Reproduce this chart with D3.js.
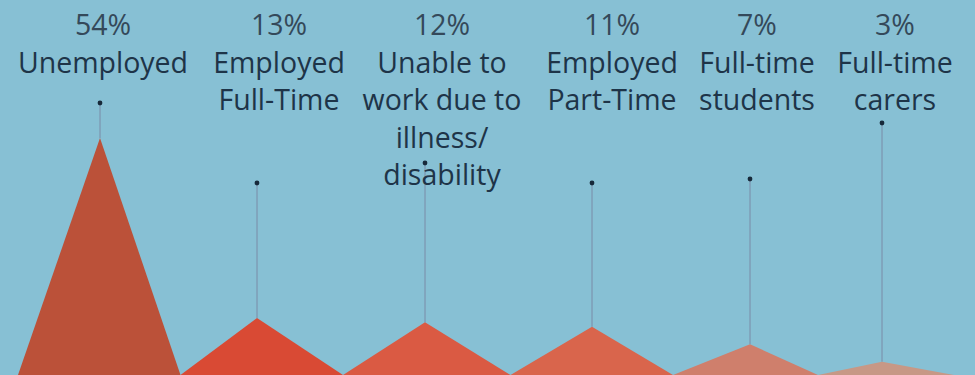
<!DOCTYPE html>
<html>
<head>
<meta charset="utf-8">
<script src="https://cdn.jsdelivr.net/npm/d3@7"></script>
<style>
  html, body { margin: 0; padding: 0; background: #87c0d4; }
  svg { display: block; }
</style>
</head>
<body>
<svg id="chart" width="975" height="375"></svg>
<script>
// ---- data ----
const categories = ["Unemployed", "Employed Full-Time", "Unable to work due to illness/disability",
                    "Employed Part-Time", "Full-time students", "Full-time carers"];
const labelLines = [
  ["Unemployed"],
  ["Employed", "Full-Time"],
  ["Unable to", "work due to", "illness/", "disability"],
  ["Employed", "Part-Time"],
  ["Full-time", "students"],
  ["Full-time", "carers"]
];
const values = [54, 13, 12, 11, 7, 3];
const percentLabels = ["54%", "13%", "12%", "11%", "7%", "3%"];

// ---- layout / style (not data) ----
const W = 975, H = 375;
const colX = [100, 257, 425, 592, 750, 882];      // column (peak) centres
const labelX = [103, 279, 442, 612, 757, 895];    // label block centres
const dotY = [103, 183, 163, 183, 179, 123];      // leader-dot heights
const colors = ["#bb5139", "#d94a34", "#da5a43", "#d9654c", "#cf7f6c", "#c79886"];
const fontSize = 28.5, lineH = 37.5, firstBaseline = 35;

const svg = d3.select("#chart");
svg.append("rect").attr("width", W).attr("height", H).attr("fill", "#87c0d4");

const x = d3.scaleLinear().domain(d3.range(categories.length)).range(colX);
const xl = d3.scaleLinear().domain(d3.range(categories.length)).range(labelX);
const y = d3.scaleLinear().domain([0, d3.max(values)]).range([H, 138]);

// base edges = midpoints between neighbours
function edges(i) {
  const c = x(i);
  const left = i === 0 ? c - (x(1) - c) / 2 - 3.5 : (x(i - 1) + c) / 2 + 2;
  const right = i === categories.length - 1 ? c + (c - x(i - 1)) / 2 + 6 : (x(i + 1) + c) / 2 + 2;
  return [left, right];
}

const g = svg.append("g");

// leader lines
g.selectAll("line.leader").data(values).join("line")
  .attr("class", "leader")
  .attr("x1", (d, i) => x(i)).attr("x2", (d, i) => x(i))
  .attr("y1", (d, i) => dotY[i]).attr("y2", d => y(d))
  .attr("stroke", "#7f9fb8").attr("stroke-width", 1.6);

// triangles
const area = d3.line();
g.selectAll("path.peak").data(values).join("path")
  .attr("class", "peak")
  .attr("d", (d, i) => {
    const [l, r] = edges(i);
    return area([[l, H], [x(i), y(d)], [r, H]]) + "Z";
  })
  .attr("fill", (d, i) => colors[i]);

// labels
const lab = g.selectAll("text.lab").data(categories).join("text")
  .attr("class", "lab")
  .attr("text-anchor", "middle")
  .attr("font-family", "'Open Sans', 'Noto Sans', sans-serif")
  .attr("font-size", fontSize)
  .attr("x", (d, i) => xl(i));

lab.append("tspan")
  .attr("x", (d, i) => xl(i)).attr("y", firstBaseline)
  .attr("fill", "#34495a")
  .text((d, i) => percentLabels[i]);

lab.each(function (d, i) {
  d3.select(this).selectAll("tspan.line").data(labelLines[i]).join("tspan")
    .attr("class", "line")
    .attr("x", xl(i))
    .attr("y", (t, j) => firstBaseline + lineH * (j + 1))
    .attr("fill", "#1e3448")
    .text(t => t);
});

// dots (drawn on top of text)
g.selectAll("circle.dot").data(values).join("circle")
  .attr("class", "dot")
  .attr("cx", (d, i) => x(i)).attr("cy", (d, i) => dotY[i])
  .attr("r", 2.4).attr("fill", "#17293a");
</script>
</body>
</html>
